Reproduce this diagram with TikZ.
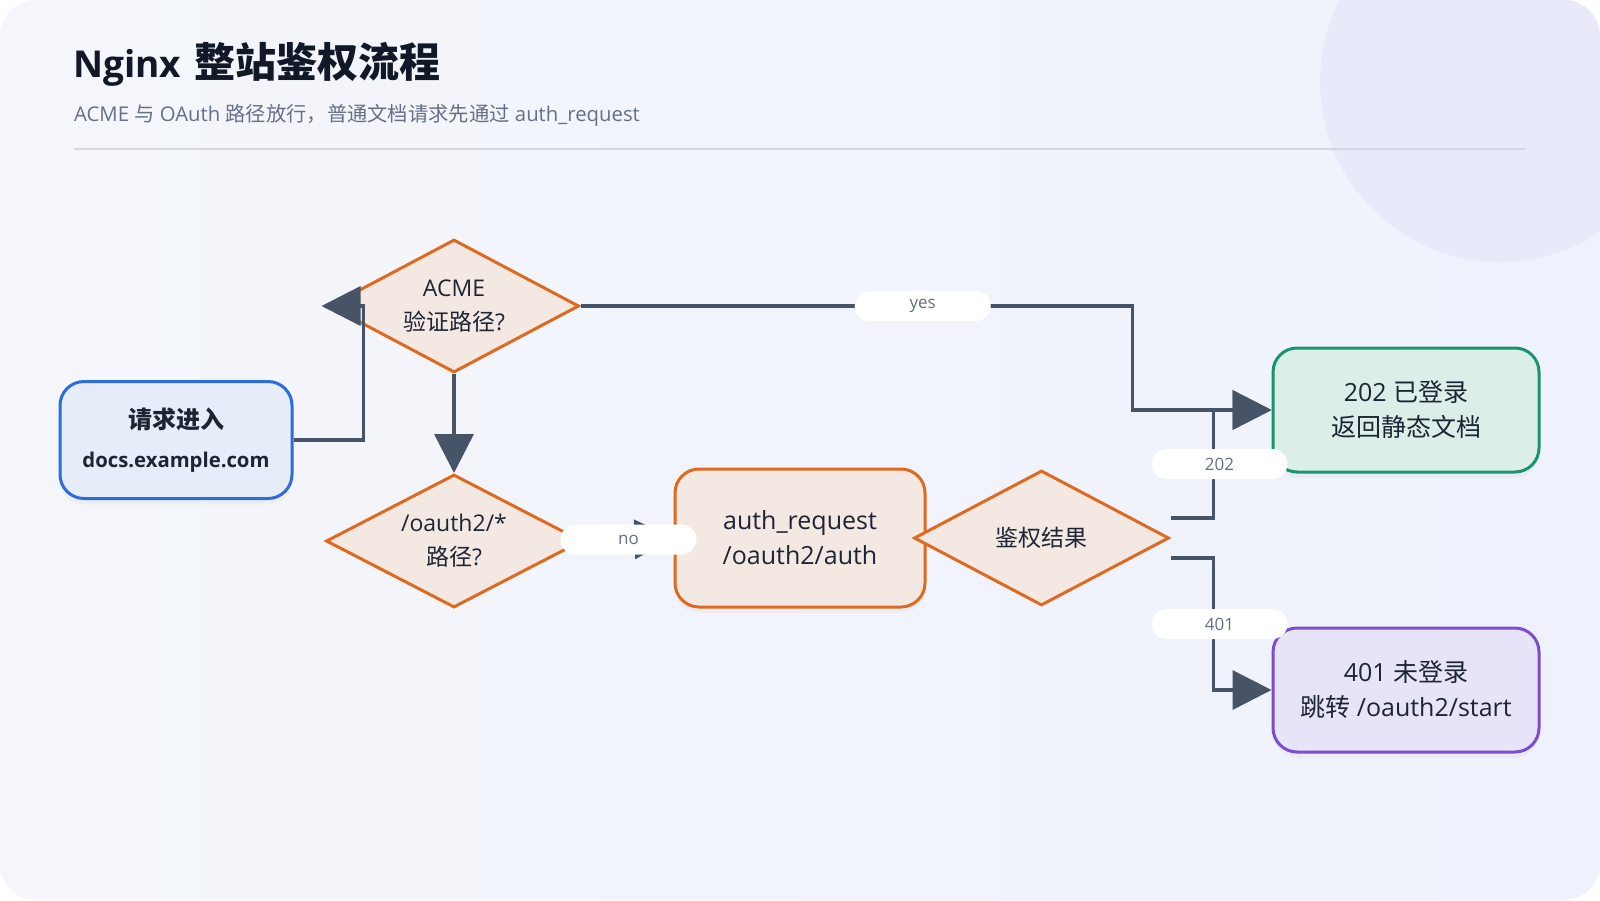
\documentclass[tikz,border=0pt]{standalone}
\usepackage{fontspec}
\setmainfont{Open Sans}
\newfontfamily\cjk{Noto Sans CJK SC}
\usetikzlibrary{arrows.meta, shapes.geometric, positioning, calc, shadows}

\definecolor{bgleft}{HTML}{F4F6FB}
\definecolor{bgright}{HTML}{EFF2FC}
\definecolor{circcol}{HTML}{E9EAF9}
\definecolor{titlecol}{HTML}{111827}
\definecolor{subcol}{HTML}{667085}
\definecolor{rulecol}{HTML}{D3D7E0}
\definecolor{inkcol}{HTML}{1D2433}
\definecolor{edgecol}{HTML}{475467}
\definecolor{pillcol}{HTML}{667080}
\definecolor{bluebd}{HTML}{2D6CDF}
\definecolor{bluefill}{HTML}{E7EDF8}
\definecolor{orgbd}{HTML}{DF6A1F}
\definecolor{orgfill}{HTML}{F4E8E3}
\definecolor{grnbd}{HTML}{1A9470}
\definecolor{grnfill}{HTML}{DCEEE8}
\definecolor{purbd}{HTML}{7C4DD0}
\definecolor{purfill}{HTML}{E7E3F8}

\tikzset{%
    boxsty/.style={
        rounded corners=24pt,
        draw,
        line width=3pt,
        align=center,
        inner sep=0pt,
        minimum height=124pt,
        minimum width=266pt,
        text=inkcol,
        font=\fontsize{25}{35}\selectfont,
        drop shadow={opacity=0.06,shadow xshift=0pt,shadow yshift=-6pt},
    },
    decsty/.style={
        diamond,
        aspect=1.9,
        draw=orgbd,
        fill=orgfill,
        line width=3pt,
        align=center,
        inner sep=0pt,
        text=inkcol,
        font=\fontsize{23}{34}\selectfont,
    },
    startsty/.style={draw=bluebd, fill=bluefill},
    orgsty/.style={draw=orgbd, fill=orgfill},
    oksty/.style={draw=grnbd, fill=grnfill},
    densty/.style={draw=purbd, fill=purfill},
    lblsty/.style={
        fill=white,
        rounded corners=15pt,
        inner sep=0pt,
        minimum width=136pt,
        minimum height=30pt,
        text=pillcol,
        font=\fontsize{17}{20}\selectfont,
    },
    flowsty/.style={
        draw=edgecol,
        line width=3.5pt,
        -{Triangle[length=39pt,width=39pt]},
    },
}

\begin{document}
\begin{tikzpicture}[x=1pt,y=-1pt]

% card and backdrop
\useasboundingbox (0,0) rectangle (1600,900);
\fill[white] (0,0) rectangle (1600,900);
\shade[left color=bgleft,right color=bgright,rounded corners=36pt] (0,0) rectangle (1600,900);
\begin{scope}
    \clip[rounded corners=36pt] (0,0) rectangle (1600,900);
    \fill[circcol] (1500,82) circle (180pt);
\end{scope}

% header
\node (title) [anchor=west,inner sep=0pt,text=titlecol,font=\fontsize{37}{48}\selectfont\bfseries] at (73,64)
    {Nginx\hspace{4pt} {\cjk\fontsize{41}{48}\selectfont 整站鉴权流程}};
\node (sub) [anchor=west,inner sep=0pt,text=subcol,font=\fontsize{20.3}{24}\selectfont] at (74,115)
    {ACME {\cjk 与} OAuth {\cjk 路径放行，普通文档请求先通过} auth\_request};
\draw[rulecol,line width=1.2pt] (74,149) -- (1525,149);

% flow nodes
\node (start) [boxsty,startsty,minimum width=232pt,minimum height=117pt] at (176,440)
    {{\cjk\bfseries\fontsize{24}{34}\selectfont 请求进入}\\[4pt]{\fontsize{20.3}{24}\selectfont\bfseries docs.example.com}};
\node (acme) [decsty,minimum width=250pt,minimum height=133pt] at (454,306) {ACME\\{\cjk 验证路径}?};
\node (oauth) [decsty,minimum width=256pt,minimum height=133pt,below=99pt of acme] {/oauth2/*\\{\cjk 路径}?};
\node (auth) [boxsty,orgsty,minimum width=250pt,minimum height=138pt,right=90pt of oauth,yshift=3pt]
    {auth\_request\\/oauth2/auth};
\node (res) [decsty,minimum width=255pt,minimum height=135pt,right=-14pt of auth] {{\cjk 鉴权结果}};
\node (ok) [boxsty,oksty] at (1406,410) {202 {\cjk 已登录}\\{\cjk 返回静态文档}};
\node (deny) [boxsty,densty] at (1406,690) {401 {\cjk 未登录}\\{\cjk 跳转} /oauth2/start};

% connectors
\draw[flowsty] (start.east) -| ([xshift=36pt]acme.west) -- ([xshift=-6pt]acme.west);
\draw[flowsty] (acme.south) -- (oauth.north);
\draw[flowsty] (acme.east) -| node[lblsty,pos=0.31] {yes} ([xshift=-139pt]ok.west) -- (ok.west);
\draw[flowsty] (oauth.east) -- node[lblsty] {no} (auth.west);
\draw[flowsty] ([yshift=20pt]res.east) -| node[lblsty,pos=0.75,xshift=6pt] {202} ([xshift=-58pt]ok.west) -- (ok.west);
\draw[flowsty] ([yshift=-20pt]res.east) -| node[lblsty,pos=0.75,xshift=6pt] {401} ([xshift=-58pt]deny.west) -- (deny.west);

\end{tikzpicture}
\end{document}
